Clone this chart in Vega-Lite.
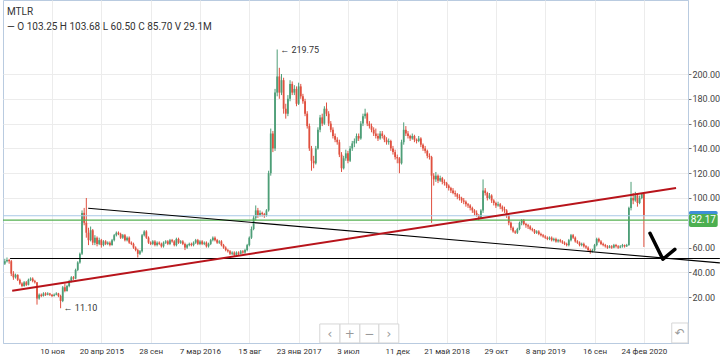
{
  "$schema": "https://vega.github.io/schema/vega-lite/v6.json",
  "width": 685,
  "height": 343,
  "autosize": "none",
  "padding": {"left": 3, "top": 0, "right": 32, "bottom": 13},
  "background": "white",
  "config": {"font": "Roboto", "view": {"stroke": "#b9cbe0"}, "axis": {"labelOverlap": false, "title": null}},
  "title": {"text": "MTLR", "subtitle": "— O 103.25 H 103.68 L 60.50 C 85.70 V 29.1M", "anchor": "start", "frame": "group", "orient": "top", "offset": -32, "dx": 4, "fontSize": 10, "fontWeight": "normal", "color": "#333", "subtitleFontSize": 10, "subtitleColor": "#333", "subtitlePadding": 5},
  "datasets": {
    "candles": [
      {"d":"2014-06-09","o":47,"h":51,"l":46,"c":49},
      {"d":"2014-06-16","o":49,"h":52,"l":48,"c":50},
      {"d":"2014-06-23","o":50,"h":51,"l":47,"c":49},
      {"d":"2014-06-30","o":49,"h":50,"l":37,"c":39},
      {"d":"2014-07-07","o":39,"h":41,"l":34,"c":36},
      {"d":"2014-07-14","o":36,"h":39,"l":35,"c":38},
      {"d":"2014-07-21","o":38,"h":38.5,"l":33,"c":34},
      {"d":"2014-07-28","o":34,"h":35,"l":30,"c":31},
      {"d":"2014-08-04","o":31,"h":32,"l":28,"c":29},
      {"d":"2014-08-11","o":29,"h":33,"l":28.5,"c":32},
      {"d":"2014-08-18","o":32,"h":33,"l":29,"c":30},
      {"d":"2014-08-25","o":30,"h":35,"l":29.5,"c":34},
      {"d":"2014-09-01","o":34,"h":36,"l":33,"c":35},
      {"d":"2014-09-08","o":35,"h":36,"l":32,"c":33},
      {"d":"2014-09-15","o":33,"h":34,"l":31,"c":32},
      {"d":"2014-09-22","o":32,"h":32,"l":14,"c":19},
      {"d":"2014-09-29","o":19,"h":23,"l":18,"c":22},
      {"d":"2014-10-06","o":22,"h":23,"l":20,"c":21},
      {"d":"2014-10-13","o":21,"h":24,"l":20.5,"c":23},
      {"d":"2014-10-20","o":23,"h":24,"l":21,"c":22},
      {"d":"2014-10-27","o":22,"h":24,"l":21.5,"c":23},
      {"d":"2014-11-03","o":23,"h":23.5,"l":21,"c":22},
      {"d":"2014-11-10","o":22,"h":22.5,"l":20,"c":21},
      {"d":"2014-11-17","o":21,"h":23,"l":20.5,"c":22},
      {"d":"2014-11-24","o":22,"h":24,"l":21.5,"c":23},
      {"d":"2014-12-01","o":23,"h":23.5,"l":20,"c":21},
      {"d":"2014-12-08","o":21,"h":22,"l":11.1,"c":17},
      {"d":"2014-12-15","o":17,"h":29,"l":16,"c":28},
      {"d":"2014-12-22","o":28,"h":31,"l":24,"c":25},
      {"d":"2014-12-29","o":25,"h":30,"l":24.5,"c":29},
      {"d":"2015-01-05","o":29,"h":34,"l":28,"c":33},
      {"d":"2015-01-12","o":33,"h":37,"l":32,"c":36},
      {"d":"2015-01-19","o":36,"h":37,"l":34,"c":35},
      {"d":"2015-01-26","o":35,"h":43,"l":34.5,"c":42},
      {"d":"2015-02-02","o":42,"h":49,"l":41,"c":48},
      {"d":"2015-02-09","o":48,"h":56,"l":47,"c":55},
      {"d":"2015-02-16","o":55,"h":90,"l":54,"c":88},
      {"d":"2015-02-23","o":88,"h":92,"l":78,"c":80},
      {"d":"2015-03-02","o":80,"h":100,"l":68,"c":72},
      {"d":"2015-03-09","o":72,"h":76,"l":62,"c":66},
      {"d":"2015-03-16","o":66,"h":77,"l":65,"c":74},
      {"d":"2015-03-23","o":74,"h":75,"l":62,"c":64},
      {"d":"2015-03-30","o":64,"h":70,"l":62,"c":68},
      {"d":"2015-04-06","o":68,"h":69,"l":61,"c":63},
      {"d":"2015-04-13","o":63,"h":68,"l":62,"c":66},
      {"d":"2015-04-20","o":66,"h":67,"l":60,"c":62},
      {"d":"2015-04-27","o":62,"h":66,"l":61,"c":65},
      {"d":"2015-05-04","o":65,"h":66,"l":62,"c":63},
      {"d":"2015-05-11","o":63,"h":65,"l":62,"c":64},
      {"d":"2015-05-18","o":64,"h":65,"l":61,"c":62},
      {"d":"2015-05-25","o":62,"h":67,"l":61.5,"c":66},
      {"d":"2015-06-01","o":66,"h":71,"l":65,"c":70},
      {"d":"2015-06-08","o":70,"h":73,"l":69,"c":72},
      {"d":"2015-06-15","o":72,"h":73,"l":70,"c":71},
      {"d":"2015-06-22","o":71,"h":72,"l":67,"c":68},
      {"d":"2015-06-29","o":68,"h":71,"l":67,"c":70},
      {"d":"2015-07-06","o":70,"h":71,"l":65,"c":66},
      {"d":"2015-07-13","o":66,"h":69,"l":65,"c":68},
      {"d":"2015-07-20","o":68,"h":69,"l":63,"c":64},
      {"d":"2015-07-27","o":64,"h":65,"l":62,"c":63},
      {"d":"2015-08-03","o":63,"h":64,"l":59,"c":60},
      {"d":"2015-08-10","o":60,"h":61,"l":57,"c":58},
      {"d":"2015-08-17","o":58,"h":59,"l":52,"c":55},
      {"d":"2015-08-24","o":55,"h":58,"l":54,"c":57},
      {"d":"2015-08-31","o":57,"h":71,"l":56,"c":70},
      {"d":"2015-09-07","o":70,"h":74,"l":69,"c":73},
      {"d":"2015-09-14","o":73,"h":74,"l":67,"c":68},
      {"d":"2015-09-21","o":68,"h":69,"l":63,"c":64},
      {"d":"2015-09-28","o":64,"h":65,"l":62,"c":63},
      {"d":"2015-10-05","o":63,"h":66,"l":62,"c":65},
      {"d":"2015-10-12","o":65,"h":66,"l":61,"c":62},
      {"d":"2015-10-19","o":62,"h":65,"l":61,"c":64},
      {"d":"2015-10-26","o":64,"h":65,"l":62,"c":63},
      {"d":"2015-11-02","o":63,"h":64,"l":60,"c":61},
      {"d":"2015-11-09","o":61,"h":65,"l":60,"c":64},
      {"d":"2015-11-16","o":64,"h":66,"l":63,"c":65},
      {"d":"2015-11-23","o":65,"h":66,"l":62,"c":63},
      {"d":"2015-11-30","o":63,"h":67,"l":62,"c":66},
      {"d":"2015-12-07","o":66,"h":67,"l":64,"c":65},
      {"d":"2015-12-14","o":65,"h":66,"l":61,"c":62},
      {"d":"2015-12-21","o":62,"h":68,"l":61,"c":67},
      {"d":"2015-12-28","o":67,"h":68,"l":63,"c":64},
      {"d":"2016-01-04","o":64,"h":66,"l":63,"c":65},
      {"d":"2016-01-11","o":65,"h":66,"l":62,"c":63},
      {"d":"2016-01-18","o":63,"h":64,"l":58,"c":60},
      {"d":"2016-01-25","o":60,"h":63,"l":59,"c":62},
      {"d":"2016-02-01","o":62,"h":64,"l":61,"c":63},
      {"d":"2016-02-08","o":63,"h":64,"l":61,"c":62},
      {"d":"2016-02-15","o":62,"h":65,"l":61,"c":64},
      {"d":"2016-02-22","o":64,"h":67,"l":63,"c":66},
      {"d":"2016-02-29","o":66,"h":67,"l":62,"c":63},
      {"d":"2016-03-07","o":63,"h":66,"l":62,"c":65},
      {"d":"2016-03-14","o":65,"h":66,"l":62,"c":63},
      {"d":"2016-03-21","o":63,"h":65,"l":62,"c":64},
      {"d":"2016-03-28","o":64,"h":65,"l":60,"c":61},
      {"d":"2016-04-04","o":61,"h":64,"l":60,"c":63},
      {"d":"2016-04-11","o":63,"h":67,"l":62,"c":66},
      {"d":"2016-04-18","o":66,"h":69,"l":65,"c":68},
      {"d":"2016-04-25","o":68,"h":69,"l":65,"c":66},
      {"d":"2016-05-02","o":66,"h":67,"l":63,"c":64},
      {"d":"2016-05-09","o":64,"h":66,"l":63,"c":65},
      {"d":"2016-05-16","o":65,"h":66,"l":61,"c":62},
      {"d":"2016-05-23","o":62,"h":63,"l":59,"c":60},
      {"d":"2016-05-30","o":60,"h":61,"l":57,"c":58},
      {"d":"2016-06-06","o":58,"h":59,"l":56,"c":57},
      {"d":"2016-06-13","o":57,"h":58,"l":54,"c":55},
      {"d":"2016-06-20","o":55,"h":57,"l":54,"c":56},
      {"d":"2016-06-27","o":56,"h":57,"l":53,"c":54},
      {"d":"2016-07-04","o":54,"h":57,"l":53.5,"c":56},
      {"d":"2016-07-11","o":56,"h":57,"l":54,"c":55},
      {"d":"2016-07-18","o":55,"h":58,"l":54.5,"c":57},
      {"d":"2016-07-25","o":57,"h":58,"l":55,"c":56},
      {"d":"2016-08-01","o":56,"h":59,"l":55,"c":58},
      {"d":"2016-08-08","o":58,"h":63,"l":57,"c":62},
      {"d":"2016-08-15","o":62,"h":69,"l":61,"c":68},
      {"d":"2016-08-22","o":68,"h":77,"l":67,"c":75},
      {"d":"2016-08-29","o":75,"h":86,"l":74,"c":84},
      {"d":"2016-09-05","o":84,"h":94,"l":82,"c":90},
      {"d":"2016-09-12","o":90,"h":92,"l":84,"c":86},
      {"d":"2016-09-19","o":86,"h":90,"l":85,"c":88},
      {"d":"2016-09-26","o":88,"h":89,"l":85,"c":87},
      {"d":"2016-10-03","o":87,"h":88,"l":84,"c":86},
      {"d":"2016-10-10","o":86,"h":91,"l":85,"c":90},
      {"d":"2016-10-17","o":90,"h":122,"l":89,"c":120},
      {"d":"2016-10-24","o":120,"h":156,"l":118,"c":152},
      {"d":"2016-10-31","o":152,"h":154,"l":137,"c":140},
      {"d":"2016-11-07","o":140,"h":188,"l":138,"c":185},
      {"d":"2016-11-14","o":185,"h":219.75,"l":182,"c":198},
      {"d":"2016-11-21","o":198,"h":205,"l":180,"c":185},
      {"d":"2016-11-28","o":185,"h":200,"l":183,"c":195},
      {"d":"2016-12-05","o":195,"h":197,"l":168,"c":172},
      {"d":"2016-12-12","o":172,"h":176,"l":164,"c":168},
      {"d":"2016-12-19","o":168,"h":183,"l":166,"c":180},
      {"d":"2016-12-26","o":180,"h":195,"l":178,"c":192},
      {"d":"2017-01-02","o":192,"h":194,"l":183,"c":185},
      {"d":"2017-01-09","o":185,"h":191,"l":183,"c":188},
      {"d":"2017-01-16","o":188,"h":190,"l":174,"c":176},
      {"d":"2017-01-23","o":176,"h":193,"l":175,"c":190},
      {"d":"2017-01-30","o":190,"h":192,"l":180,"c":182},
      {"d":"2017-02-06","o":182,"h":184,"l":176,"c":178},
      {"d":"2017-02-13","o":178,"h":180,"l":166,"c":168},
      {"d":"2017-02-20","o":168,"h":170,"l":156,"c":158},
      {"d":"2017-02-27","o":158,"h":160,"l":138,"c":140},
      {"d":"2017-03-06","o":140,"h":142,"l":122,"c":130},
      {"d":"2017-03-13","o":130,"h":134,"l":124,"c":128},
      {"d":"2017-03-20","o":128,"h":142,"l":127,"c":140},
      {"d":"2017-03-27","o":140,"h":157,"l":139,"c":155},
      {"d":"2017-04-03","o":155,"h":167,"l":153,"c":165},
      {"d":"2017-04-10","o":165,"h":168,"l":158,"c":160},
      {"d":"2017-04-17","o":160,"h":174,"l":159,"c":172},
      {"d":"2017-04-24","o":172,"h":177,"l":166,"c":168},
      {"d":"2017-05-01","o":168,"h":170,"l":158,"c":160},
      {"d":"2017-05-08","o":160,"h":162,"l":153,"c":155},
      {"d":"2017-05-15","o":155,"h":157,"l":148,"c":150},
      {"d":"2017-05-22","o":150,"h":152,"l":145,"c":147},
      {"d":"2017-05-29","o":147,"h":149,"l":143,"c":145},
      {"d":"2017-06-05","o":145,"h":147,"l":133,"c":135},
      {"d":"2017-06-12","o":135,"h":137,"l":121,"c":124},
      {"d":"2017-06-19","o":124,"h":134,"l":123,"c":132},
      {"d":"2017-06-26","o":132,"h":139,"l":130,"c":136},
      {"d":"2017-07-03","o":136,"h":138,"l":128,"c":130},
      {"d":"2017-07-10","o":130,"h":142,"l":129,"c":140},
      {"d":"2017-07-17","o":140,"h":146,"l":138,"c":144},
      {"d":"2017-07-24","o":144,"h":148,"l":141,"c":146},
      {"d":"2017-07-31","o":146,"h":152,"l":144,"c":150},
      {"d":"2017-08-07","o":150,"h":152,"l":146,"c":148},
      {"d":"2017-08-14","o":148,"h":162,"l":147,"c":160},
      {"d":"2017-08-21","o":160,"h":168,"l":158,"c":166},
      {"d":"2017-08-28","o":166,"h":172,"l":164,"c":168},
      {"d":"2017-09-04","o":168,"h":169,"l":158,"c":160},
      {"d":"2017-09-11","o":160,"h":162,"l":156,"c":158},
      {"d":"2017-09-18","o":158,"h":160,"l":153,"c":155},
      {"d":"2017-09-25","o":155,"h":157,"l":150,"c":152},
      {"d":"2017-10-02","o":152,"h":156,"l":148,"c":150},
      {"d":"2017-10-09","o":150,"h":152,"l":146,"c":148},
      {"d":"2017-10-16","o":148,"h":154,"l":147,"c":152},
      {"d":"2017-10-23","o":152,"h":154,"l":148,"c":150},
      {"d":"2017-10-30","o":150,"h":151,"l":145,"c":147},
      {"d":"2017-11-06","o":147,"h":149,"l":143,"c":145},
      {"d":"2017-11-13","o":145,"h":148,"l":143,"c":146},
      {"d":"2017-11-20","o":146,"h":147,"l":138,"c":140},
      {"d":"2017-11-27","o":140,"h":142,"l":135,"c":137},
      {"d":"2017-12-04","o":137,"h":139,"l":131,"c":133},
      {"d":"2017-12-11","o":133,"h":135,"l":128,"c":132},
      {"d":"2017-12-18","o":132,"h":133,"l":120,"c":128},
      {"d":"2017-12-25","o":128,"h":147,"l":127,"c":145},
      {"d":"2018-01-01","o":145,"h":161,"l":143,"c":155},
      {"d":"2018-01-08","o":155,"h":158,"l":150,"c":152},
      {"d":"2018-01-15","o":152,"h":154,"l":148,"c":150},
      {"d":"2018-01-22","o":150,"h":151,"l":146,"c":148},
      {"d":"2018-01-29","o":148,"h":152,"l":147,"c":150},
      {"d":"2018-02-05","o":150,"h":151,"l":145,"c":147},
      {"d":"2018-02-12","o":147,"h":148,"l":144,"c":146},
      {"d":"2018-02-19","o":146,"h":150,"l":145,"c":148},
      {"d":"2018-02-26","o":148,"h":149,"l":141,"c":143},
      {"d":"2018-03-05","o":143,"h":144,"l":138,"c":140},
      {"d":"2018-03-12","o":140,"h":142,"l":136,"c":138},
      {"d":"2018-03-19","o":138,"h":139,"l":132,"c":134},
      {"d":"2018-03-26","o":134,"h":136,"l":131,"c":133},
      {"d":"2018-04-02","o":133,"h":134,"l":80,"c":118},
      {"d":"2018-04-09","o":118,"h":120,"l":110,"c":115},
      {"d":"2018-04-16","o":115,"h":121,"l":113,"c":118},
      {"d":"2018-04-23","o":118,"h":119,"l":112,"c":114},
      {"d":"2018-04-30","o":114,"h":118,"l":113,"c":116},
      {"d":"2018-05-07","o":116,"h":117,"l":111,"c":113},
      {"d":"2018-05-14","o":113,"h":115,"l":110,"c":112},
      {"d":"2018-05-21","o":112,"h":113,"l":108,"c":110},
      {"d":"2018-05-28","o":110,"h":111,"l":106,"c":108},
      {"d":"2018-06-04","o":108,"h":109,"l":104,"c":106},
      {"d":"2018-06-11","o":106,"h":108,"l":103,"c":104},
      {"d":"2018-06-18","o":104,"h":106,"l":101,"c":103},
      {"d":"2018-06-25","o":103,"h":104,"l":99,"c":101},
      {"d":"2018-07-02","o":101,"h":103,"l":98,"c":100},
      {"d":"2018-07-09","o":100,"h":101,"l":96,"c":98},
      {"d":"2018-07-16","o":98,"h":100,"l":95,"c":97},
      {"d":"2018-07-23","o":97,"h":98,"l":93,"c":95},
      {"d":"2018-07-30","o":95,"h":96,"l":92,"c":94},
      {"d":"2018-08-06","o":94,"h":95,"l":90,"c":92},
      {"d":"2018-08-13","o":92,"h":93,"l":88,"c":90},
      {"d":"2018-08-20","o":90,"h":91,"l":86,"c":88},
      {"d":"2018-08-27","o":88,"h":90,"l":85,"c":86},
      {"d":"2018-09-03","o":86,"h":87,"l":82,"c":84},
      {"d":"2018-09-10","o":84,"h":91,"l":83,"c":90},
      {"d":"2018-09-17","o":90,"h":115,"l":88,"c":106},
      {"d":"2018-09-24","o":106,"h":108,"l":102,"c":104},
      {"d":"2018-10-01","o":104,"h":105,"l":98,"c":100},
      {"d":"2018-10-08","o":100,"h":104,"l":99,"c":102},
      {"d":"2018-10-15","o":102,"h":103,"l":96,"c":98},
      {"d":"2018-10-22","o":98,"h":99,"l":94,"c":96},
      {"d":"2018-10-29","o":96,"h":97,"l":92,"c":94},
      {"d":"2018-11-05","o":94,"h":97,"l":93,"c":95},
      {"d":"2018-11-12","o":95,"h":96,"l":91,"c":93},
      {"d":"2018-11-19","o":93,"h":94,"l":89,"c":91},
      {"d":"2018-11-26","o":91,"h":93,"l":88,"c":90},
      {"d":"2018-12-03","o":90,"h":91,"l":84,"c":86},
      {"d":"2018-12-10","o":86,"h":87,"l":78,"c":80},
      {"d":"2018-12-17","o":80,"h":81,"l":74,"c":76},
      {"d":"2018-12-24","o":76,"h":77,"l":72,"c":73},
      {"d":"2018-12-31","o":73,"h":74,"l":71,"c":72},
      {"d":"2019-01-07","o":72,"h":76,"l":71,"c":75},
      {"d":"2019-01-14","o":75,"h":81,"l":74,"c":80},
      {"d":"2019-01-21","o":80,"h":83,"l":78,"c":82},
      {"d":"2019-01-28","o":82,"h":83,"l":78,"c":79},
      {"d":"2019-02-04","o":79,"h":80,"l":76,"c":78},
      {"d":"2019-02-11","o":78,"h":79,"l":75,"c":77},
      {"d":"2019-02-18","o":77,"h":78,"l":74,"c":75},
      {"d":"2019-02-25","o":75,"h":76,"l":73,"c":74},
      {"d":"2019-03-04","o":74,"h":75,"l":71,"c":72},
      {"d":"2019-03-11","o":72,"h":74,"l":71,"c":73},
      {"d":"2019-03-18","o":73,"h":74,"l":70,"c":71},
      {"d":"2019-03-25","o":71,"h":72,"l":69,"c":70},
      {"d":"2019-04-01","o":70,"h":71,"l":68,"c":69},
      {"d":"2019-04-08","o":69,"h":70,"l":67,"c":68},
      {"d":"2019-04-15","o":68,"h":69,"l":66,"c":67},
      {"d":"2019-04-22","o":67,"h":69,"l":66,"c":68},
      {"d":"2019-04-29","o":68,"h":69,"l":65,"c":66},
      {"d":"2019-05-06","o":66,"h":68,"l":65,"c":67},
      {"d":"2019-05-13","o":67,"h":68,"l":64,"c":65},
      {"d":"2019-05-20","o":65,"h":67,"l":64,"c":66},
      {"d":"2019-05-27","o":66,"h":67,"l":64,"c":65},
      {"d":"2019-06-03","o":65,"h":66,"l":63,"c":64},
      {"d":"2019-06-10","o":64,"h":65,"l":62,"c":63},
      {"d":"2019-06-17","o":63,"h":64,"l":61,"c":62},
      {"d":"2019-06-24","o":62,"h":67,"l":61,"c":66},
      {"d":"2019-07-01","o":66,"h":71,"l":65,"c":70},
      {"d":"2019-07-08","o":70,"h":71,"l":67,"c":68},
      {"d":"2019-07-15","o":68,"h":69,"l":64,"c":65},
      {"d":"2019-07-22","o":65,"h":66,"l":63,"c":64},
      {"d":"2019-07-29","o":64,"h":65,"l":61,"c":62},
      {"d":"2019-08-05","o":62,"h":64,"l":61,"c":63},
      {"d":"2019-08-12","o":63,"h":64,"l":60,"c":61},
      {"d":"2019-08-19","o":61,"h":62,"l":59,"c":60},
      {"d":"2019-08-26","o":60,"h":61,"l":57,"c":58},
      {"d":"2019-09-02","o":58,"h":59,"l":55,"c":57},
      {"d":"2019-09-09","o":57,"h":59,"l":56,"c":58},
      {"d":"2019-09-16","o":58,"h":63,"l":57,"c":62},
      {"d":"2019-09-23","o":62,"h":68,"l":61,"c":67},
      {"d":"2019-09-30","o":67,"h":68,"l":64,"c":65},
      {"d":"2019-10-07","o":65,"h":66,"l":62,"c":63},
      {"d":"2019-10-14","o":63,"h":64,"l":61,"c":62},
      {"d":"2019-10-21","o":62,"h":63,"l":60,"c":61},
      {"d":"2019-10-28","o":61,"h":62,"l":59,"c":60},
      {"d":"2019-11-04","o":60,"h":62,"l":59.5,"c":61},
      {"d":"2019-11-11","o":61,"h":62,"l":59,"c":60},
      {"d":"2019-11-18","o":60,"h":63,"l":59.5,"c":62},
      {"d":"2019-11-25","o":62,"h":63,"l":60,"c":61},
      {"d":"2019-12-02","o":61,"h":62,"l":59,"c":60},
      {"d":"2019-12-09","o":60,"h":62,"l":59.5,"c":61},
      {"d":"2019-12-16","o":61,"h":63,"l":60,"c":62},
      {"d":"2019-12-23","o":62,"h":62.5,"l":60,"c":61},
      {"d":"2019-12-30","o":61,"h":63,"l":60.5,"c":62},
      {"d":"2020-01-06","o":62,"h":93,"l":61.5,"c":92},
      {"d":"2020-01-13","o":92,"h":113,"l":90,"c":100},
      {"d":"2020-01-20","o":100,"h":104,"l":95,"c":98},
      {"d":"2020-01-27","o":98,"h":105,"l":97,"c":102},
      {"d":"2020-02-03","o":102,"h":103,"l":93,"c":96},
      {"d":"2020-02-10","o":96,"h":102,"l":95,"c":100},
      {"d":"2020-02-17","o":100,"h":104,"l":99,"c":103.25},
      {"d":"2020-02-24","o":103.25,"h":103.68,"l":60.5,"c":85.7}
    ]
  },
  "layer": [
    {
      "data": {"name": "candles"},
      "mark": {"type": "rule", "strokeWidth": 1},
      "encoding": {
        "x": {"field": "d", "type": "temporal",
          "scale": {"type": "utc", "domain": [{"year": 2014, "month": 6, "date": 3, "utc": true}, {"year": 2020, "month": 7, "date": 17, "utc": true}]},
          "axis": {"title": null, "tickCount": 40, "values": [
            {"year": 2014, "month": 11, "date": 10, "utc": true},
            {"year": 2015, "month": 4, "date": 20, "utc": true},
            {"year": 2015, "month": 9, "date": 28, "utc": true},
            {"year": 2016, "month": 3, "date": 7, "utc": true},
            {"year": 2016, "month": 8, "date": 15, "utc": true},
            {"year": 2017, "month": 1, "date": 23, "utc": true},
            {"year": 2017, "month": 7, "date": 3, "utc": true},
            {"year": 2017, "month": 12, "date": 11, "utc": true},
            {"year": 2018, "month": 5, "date": 21, "utc": true},
            {"year": 2018, "month": 10, "date": 29, "utc": true},
            {"year": 2019, "month": 4, "date": 8, "utc": true},
            {"year": 2019, "month": 9, "date": 16, "utc": true},
            {"year": 2020, "month": 2, "date": 24, "utc": true}],
            "labelExpr": "utcdate(datum.value) + ' ' + ['янв','фев','мар','апр','май','июн','июл','авг','сен','окт','ноя','дек'][utcmonth(datum.value)] + (utcmonth(datum.value) < 6 ? ' ' + utcyear(datum.value) : '')",
            "grid": true, "gridColor": "#ececec", "ticks": false, "domainColor": "#b9cbe0",
            "labelFontSize": 8, "labelColor": "#333", "labelPadding": 4, "labelOverlap": false, "labelFlush": false}},
        "y": {"field": "l", "type": "quantitative",
          "scale": {"domain": [-16.94, 259.68], "nice": false, "zero": false},
          "axis": {"title": null, "orient": "right", "tickCount": 40, "values": [20, 40, 60, 80, 100, 120, 140, 160, 180, 200],
            "labelExpr": "datum.value == 80 ? '' : format(datum.value, '.2f')",
            "grid": true, "gridColor": "#ececec", "domainColor": "#b9cbe0", "tickColor": "#777", "tickSize": 3,
            "labelFontSize": 9, "labelColor": "#444", "labelPadding": 1, "labelOverlap": false, "labelFlush": false}},
        "y2": {"field": "h"},
        "color": {"condition": {"test": "datum.c >= datum.o", "value": "#4d9e77"}, "value": "#e0503f"}
      }
    },
    {
      "data": {"name": "candles"},
      "mark": {"type": "rule", "strokeWidth": 1.8},
      "encoding": {
        "x": {"field": "d", "type": "temporal"},
        "y": {"field": "o", "type": "quantitative"},
        "y2": {"field": "c"},
        "color": {"condition": {"test": "datum.c >= datum.o", "value": "#4d9e77"}, "value": "#e0503f"}
      }
    },
    {
      "data": {"values": [{"d": "2014-06-03", "v": 85.7}, {"d": "2020-07-17", "v": 85.7}]},
      "mark": {"type": "line", "color": "#a9c9e6", "strokeWidth": 1.2},
      "encoding": {"x": {"field": "d", "type": "temporal"}, "y": {"field": "v", "type": "quantitative"}}
    },
    {
      "data": {"values": [{"d": "2014-06-03", "v": 82.17}, {"d": "2020-07-17", "v": 82.17}]},
      "mark": {"type": "line", "color": "#55b050", "strokeWidth": 1.4},
      "encoding": {"x": {"field": "d", "type": "temporal"}, "y": {"field": "v", "type": "quantitative"}}
    },
    {
      "data": {"values": [{"d": "2014-06-26", "v": 51.2}, {"d": "2020-10-29", "v": 51.2}]},
      "mark": {"type": "line", "color": "#000", "strokeWidth": 1.2},
      "encoding": {"x": {"field": "d", "type": "temporal"}, "y": {"field": "v", "type": "quantitative"}}
    },
    {
      "data": {"values": [{"d": "2015-03-08", "v": 91.7}, {"d": "2020-10-29", "v": 47.7}]},
      "mark": {"type": "line", "color": "#000", "strokeWidth": 1.1},
      "encoding": {"x": {"field": "d", "type": "temporal"}, "y": {"field": "v", "type": "quantitative"}}
    },
    {
      "data": {"values": [{"d": "2014-07-03", "v": 25.2}, {"d": "2020-06-08", "v": 108}]},
      "mark": {"type": "line", "color": "#b8141b", "strokeWidth": 2},
      "encoding": {"x": {"field": "d", "type": "temporal"}, "y": {"field": "v", "type": "quantitative"}}
    },
    {
      "data": {"values": [{"d": "2020-03-15", "v": 71.5}, {"d": "2020-04-26", "v": 50.6}, {"d": "2020-06-04", "v": 58.6}]},
      "mark": {"type": "line", "color": "#000", "strokeWidth": 3.5, "strokeCap": "round", "strokeJoin": "round"},
      "encoding": {"x": {"field": "d", "type": "temporal"}, "y": {"field": "v", "type": "quantitative"}}
    },
    {
      "data": {"values": [{"d": "2020-07-20", "d2": "2020-10-22", "v": 89.5, "v2": 86.5, "k": "b"}, {"d": "2020-07-20", "d2": "2020-10-22", "v": 87.1, "v2": 76.6, "k": "g"}]},
      "mark": {"type": "rect", "cornerRadius": 2},
      "encoding": {"x": {"field": "d", "type": "temporal"}, "x2": {"field": "d2"},
        "y": {"field": "v", "type": "quantitative"}, "y2": {"field": "v2"},
        "color": {"field": "k", "type": "nominal", "scale": {"domain": ["b", "g"], "range": ["#3f8fd8", "#4caf50"]}, "legend": null}}
    },
    {
      "data": {"values": [{"d": "2020-09-05", "v": 82.0, "t": "82.17"}]},
      "mark": {"type": "text", "color": "white", "fontSize": 10, "baseline": "middle", "align": "center"},
      "encoding": {"x": {"field": "d", "type": "temporal"}, "y": {"field": "v", "type": "quantitative"}, "text": {"field": "t"}}
    },
    {
      "data": {"values": [{"d": "2016-11-14", "v": 219.75, "t": "← 219.75"}, {"d": "2014-12-08", "v": 11.1, "t": "← 11.10"}]},
      "mark": {"type": "text", "color": "#333", "fontSize": 9, "baseline": "middle", "align": "left", "dx": 3},
      "encoding": {"x": {"field": "d", "type": "temporal"}, "y": {"field": "v", "type": "quantitative"}, "text": {"field": "t"}}
    },
    {
      "data": {"values": [
        {"d": "2017-04-02", "d2": "2017-06-07", "v": -1.6, "v2": -16.9},
        {"d": "2017-06-07", "d2": "2017-08-11", "v": -1.6, "v2": -16.9},
        {"d": "2017-08-11", "d2": "2017-10-12", "v": -1.6, "v2": -16.9},
        {"d": "2017-10-12", "d2": "2017-12-16", "v": -1.6, "v2": -16.9},
        {"d": "2020-05-25", "d2": "2020-07-17", "v": -0.8, "v2": -16.9}]},
      "mark": {"type": "rect", "fill": "white", "stroke": "#d6d6d6", "strokeWidth": 1},
      "encoding": {"x": {"field": "d", "type": "temporal"}, "x2": {"field": "d2"},
        "y": {"field": "v", "type": "quantitative"}, "y2": {"field": "v2"}}
    },
    {
      "data": {"values": [
        {"d": "2017-05-05", "v": -9.3, "t": "‹"},
        {"d": "2017-07-09", "v": -9.3, "t": "+"},
        {"d": "2017-09-11", "v": -9.3, "t": "−"},
        {"d": "2017-11-14", "v": -9.3, "t": "›"},
        {"d": "2020-06-20", "v": -8.9, "t": "↶"}]},
      "mark": {"type": "text", "color": "#999", "fontSize": 12, "baseline": "middle", "align": "center", "font": "DejaVu Sans"},
      "encoding": {"x": {"field": "d", "type": "temporal"}, "y": {"field": "v", "type": "quantitative"}, "text": {"field": "t"}}
    }
  ]
}
